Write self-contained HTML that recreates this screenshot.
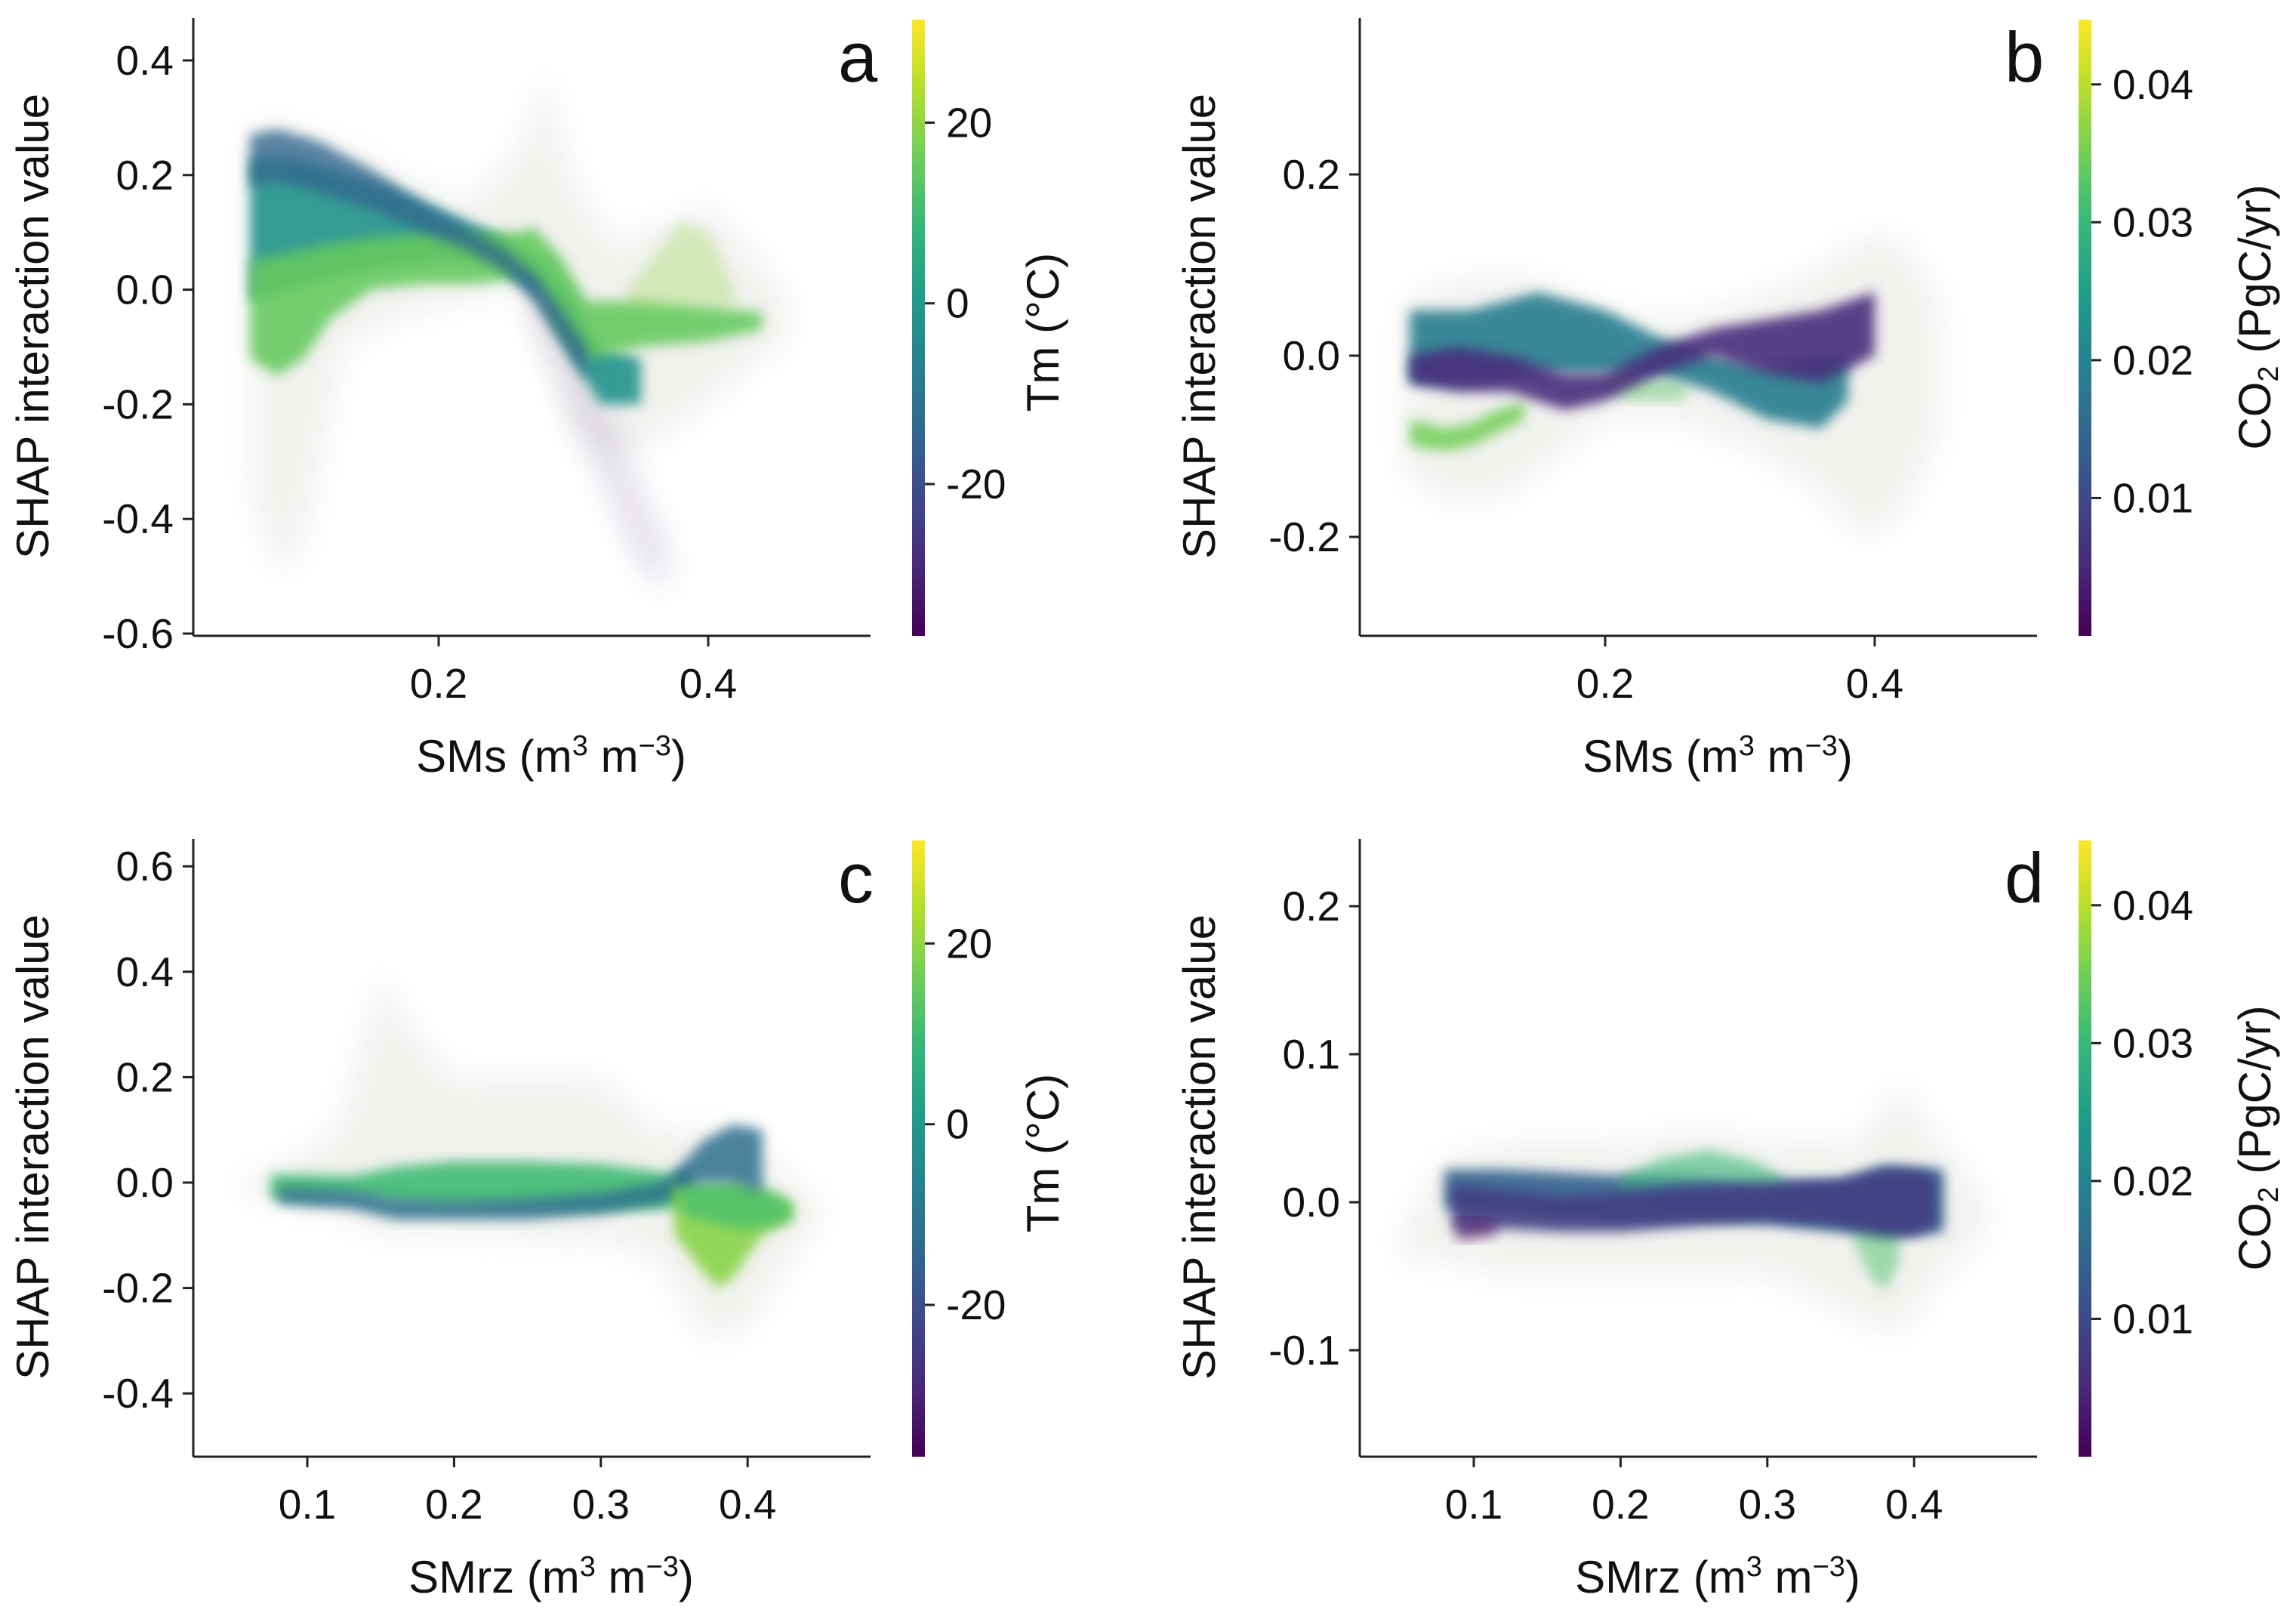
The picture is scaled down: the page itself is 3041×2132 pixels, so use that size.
<!DOCTYPE html>
<html><head><meta charset="utf-8"><style>
html,body{margin:0;padding:0;background:#fff}
svg{display:block}
text{font-family:"Liberation Sans",sans-serif;fill:#111}
</style></head><body>
<svg id="fig" width="3041" height="2132" viewBox="0 0 3041 2132" xmlns="http://www.w3.org/2000/svg">
<defs>
<filter id="blurS" x="-20%" y="-20%" width="140%" height="140%"><feGaussianBlur stdDeviation="8"/></filter>
<filter id="blurL" x="-20%" y="-20%" width="140%" height="140%"><feGaussianBlur stdDeviation="20"/></filter>
<linearGradient id="viridis" x1="0" y1="1" x2="0" y2="0"></linearGradient>
</defs>
</svg>
<script>
// ---------- tick labels ----------
const aYTicks=[0.4,0.2,0.0,-0.2,-0.4,-0.6];
const aYLabels=["0.4","0.2","0.0","-0.2","-0.4","-0.6"];
const abXTicks=[0.2,0.4];
const abXLabels=["0.2","0.4"];
const bYTicks=[0.2,0.0,-0.2];
const bYLabels=["0.2","0.0","-0.2"];
const cYTicks=[0.6,0.4,0.2,0.0,-0.2,-0.4];
const cYLabels=["0.6","0.4","0.2","0.0","-0.2","-0.4"];
const dYTicks=[0.2,0.1,0.0,-0.1];
const dYLabels=["0.2","0.1","0.0","-0.1"];
const cdXTicks=[0.1,0.2,0.3,0.4];
const cdXLabels=["0.1","0.2","0.3","0.4"];
const tmTicks=[20,0,-20];
const tmLabels=["20","0","-20"];
const co2Ticks=[0.04,0.03,0.02,0.01];
const co2Labels=["0.04","0.03","0.02","0.01"];

// ---------- panel a data (x, lower, upper, colour value) ----------
const aHaloX=[0.06,0.08,0.10,0.13,0.17,0.22,0.26,0.28,0.30,0.33,0.37,0.40,0.44,0.46];
const aHaloHi=[0.28,0.29,0.27,0.25,0.2,0.15,0.25,0.38,0.2,0.08,0.12,0.15,0.05,-0.02];
const aHaloLo=[-0.35,-0.5,-0.45,-0.1,-0.05,-0.02,0.0,-0.1,-0.25,-0.3,-0.25,-0.2,-0.12,-0.08];
const aTailX=[0.27,0.29,0.31,0.33,0.35,0.37];
const aTailHi=[0.02,-0.05,-0.15,-0.25,-0.35,-0.45];
const aTailLo=[-0.05,-0.15,-0.27,-0.38,-0.48,-0.53];
const aTealX=[0.06,0.09,0.12,0.16,0.2,0.24,0.28,0.3,0.32,0.35];
const aTealHi=[0.23,0.23,0.21,0.18,0.14,0.1,0.05,-0.02,-0.1,-0.12];
const aTealLo=[-0.02,0.0,0.02,0.04,0.05,0.05,-0.02,-0.12,-0.2,-0.2];
const aGreenX=[0.06,0.08,0.10,0.12,0.15,0.19,0.23,0.26,0.27,0.29,0.31,0.35,0.40,0.44];
const aGreenHi=[0.05,0.06,0.07,0.08,0.09,0.1,0.1,0.1,0.11,0.06,-0.02,-0.02,-0.03,-0.04];
const aGreenLo=[-0.12,-0.15,-0.12,-0.05,0.0,0.01,0.01,0.02,0.02,-0.08,-0.12,-0.1,-0.09,-0.07];
const aRidgeX=[0.06,0.08,0.11,0.15,0.19,0.22,0.25,0.27,0.29,0.31];
const aRidgeHi=[0.27,0.28,0.26,0.21,0.15,0.11,0.07,0.03,-0.03,-0.1];
const aRidgeLo=[0.18,0.19,0.17,0.14,0.1,0.07,0.03,-0.02,-0.09,-0.16];
const aPlumeX=[0.34,0.36,0.38,0.40,0.42];
const aPlumeHi=[0.0,0.06,0.12,0.1,0.0];
const aPlumeLo=[-0.03,-0.03,-0.03,-0.03,-0.03];
const aColors=[null,-30,-2,15,-14,20];

// ---------- panel b ----------
const bHaloX=[0.05,0.08,0.12,0.16,0.2,0.25,0.3,0.35,0.39,0.42,0.45];
const bHaloHi=[0.06,0.08,0.09,0.08,0.05,0.04,0.06,0.09,0.13,0.13,0.06];
const bHaloLo=[-0.13,-0.16,-0.16,-0.12,-0.07,-0.07,-0.1,-0.14,-0.2,-0.18,-0.08];
const bGreenX=[0.055,0.08,0.1,0.12,0.14];
const bGreenHi=[-0.07,-0.08,-0.075,-0.06,-0.05];
const bGreenLo=[-0.1,-0.105,-0.1,-0.085,-0.07];
const bGreen2X=[0.2,0.22,0.24,0.26];
const bGreen2Hi=[-0.02,-0.02,-0.025,-0.03];
const bGreen2Lo=[-0.04,-0.05,-0.05,-0.05];
const bTealX=[0.055,0.1,0.15,0.2,0.24,0.28,0.32,0.36,0.38];
const bTealHi=[0.05,0.05,0.07,0.05,0.02,0.0,-0.01,0.0,0.0];
const bTealLo=[-0.03,-0.03,-0.02,-0.02,-0.02,-0.04,-0.07,-0.08,-0.05];
const bBlueX=[0.055,0.09,0.13,0.17,0.2,0.24,0.28,0.32,0.36,0.4];
const bBlueHi=[0.0,0.01,0.0,-0.02,-0.02,0.01,0.03,0.04,0.05,0.07];
const bBlueLo=[-0.03,-0.04,-0.04,-0.06,-0.05,-0.02,0.0,-0.02,-0.03,0.0];
const bColors=[null,0.035,0.033,0.019,0.006];

// ---------- panel c ----------
const cHaloX=[0.05,0.08,0.12,0.15,0.17,0.2,0.25,0.3,0.34,0.37,0.4,0.43,0.45];
const cHaloHi=[0.0,0.03,0.1,0.4,0.3,0.2,0.2,0.2,0.1,0.1,0.1,0.0,-0.03];
const cHaloLo=[-0.01,-0.04,-0.06,-0.1,-0.1,-0.1,-0.11,-0.11,-0.15,-0.3,-0.28,-0.15,-0.07];
const cGreenX=[0.075,0.1,0.13,0.16,0.2,0.25,0.3,0.34,0.36];
const cGreenHi=[0.015,0.015,0.012,0.03,0.04,0.04,0.035,0.02,0.01];
const cGreenLo=[-0.03,-0.03,-0.03,-0.04,-0.05,-0.05,-0.05,-0.05,-0.05];
const cBlueX=[0.08,0.1,0.13,0.16,0.2,0.25,0.3,0.34,0.36];
const cBlueHi=[-0.01,-0.01,-0.015,-0.03,-0.035,-0.03,-0.02,0.0,0.03];
const cBlueLo=[-0.04,-0.045,-0.05,-0.07,-0.07,-0.07,-0.06,-0.04,-0.02];
const cYellowX=[0.35,0.37,0.38,0.39,0.41,0.43];
const cYellowHi=[0.0,-0.01,-0.01,0.0,-0.02,-0.04];
const cYellowLo=[-0.1,-0.17,-0.2,-0.18,-0.1,-0.07];
const cMidX=[0.355,0.38,0.4,0.42,0.43];
const cMidHi=[0.0,0.0,0.0,-0.02,-0.04];
const cMidLo=[-0.06,-0.08,-0.09,-0.08,-0.07];
const cBumpX=[0.35,0.37,0.39,0.41];
const cBumpHi=[0.02,0.08,0.11,0.1];
const cBumpLo=[-0.01,0.0,0.0,-0.02];
const cColors=[null,10,-12,19,12,-12];

// ---------- panel d ----------
const dHaloX=[0.05,0.08,0.12,0.2,0.26,0.3,0.36,0.39,0.42,0.45];
const dHaloHi=[-0.02,0.03,0.04,0.04,0.05,0.04,0.04,0.08,0.04,0.0];
const dHaloLo=[-0.04,-0.04,-0.05,-0.05,-0.05,-0.05,-0.08,-0.09,-0.05,-0.02];
const dTealX=[0.08,0.12,0.16,0.2,0.25,0.3,0.35,0.38,0.42];
const dTealHi=[0.022,0.022,0.02,0.018,0.018,0.015,0.015,0.025,0.022];
const dTealLo=[-0.005,-0.005,-0.01,-0.012,-0.012,-0.015,-0.02,-0.025,-0.02];
const dHumpX=[0.2,0.23,0.26,0.29,0.31];
const dHumpHi=[0.018,0.03,0.035,0.028,0.018];
const dHumpLo=[0.008,0.012,0.015,0.012,0.008];
const dLowX=[0.36,0.37,0.38,0.39];
const dLowHi=[-0.02,-0.02,-0.02,-0.02];
const dLowLo=[-0.03,-0.05,-0.06,-0.04];
const dBlueX=[0.085,0.12,0.16,0.2,0.25,0.3,0.35,0.38,0.4,0.415];
const dBlueHi=[0.012,0.008,0.004,0.006,0.01,0.012,0.015,0.022,0.022,0.018];
const dBlueLo=[-0.018,-0.018,-0.02,-0.02,-0.016,-0.012,-0.016,-0.022,-0.022,-0.016];
const dPurpX=[0.088,0.1,0.115];
const dPurpHi=[-0.012,-0.012,-0.012];
const dPurpLo=[-0.026,-0.025,-0.022];
const dColors=[null,0.014,0.03,0.032,0.008,0.002];

const NS="http://www.w3.org/2000/svg";
const svg=document.getElementById('fig');
const VIR=["#440154","#482878","#3e4989","#31688e","#26828e","#1f9e89","#35b779","#6ece58","#b5de2b","#fde725"];
function hex(h){return [1,3,5].map(i=>parseInt(h.substr(i,2),16));}
function viridis(t){t=Math.max(0,Math.min(1,t));const p=t*(VIR.length-1);const i=Math.min(VIR.length-2,Math.floor(p));const f=p-i;
 const a=hex(VIR[i]),b=hex(VIR[i+1]);return 'rgb('+a.map((v,k)=>Math.round(v+(b[k]-v)*f)).join(',')+')';}
const grad=svg.querySelector('#viridis');
VIR.forEach((c,i)=>{const s=document.createElementNS(NS,'stop');s.setAttribute('offset',(i/(VIR.length-1)));s.setAttribute('stop-color',c);grad.appendChild(s);});

function mk(tag,attrs,parent){const e=document.createElementNS(NS,tag);for(const k in attrs)e.setAttribute(k,attrs[k]);(parent||svg).appendChild(e);return e;}

function panel(cfg){
 const g=mk('g',{transform:'translate('+cfg.ox+','+cfg.oy+')'});
 
 
 const L=256,R=1153,T=24,B=842;
 const sx=v=>cfg.xp0+(v-cfg.xv0)*cfg.xk;
 const sy=v=>cfg.yp0-(v-cfg.yv0)*cfg.yk;
 const cg=mk('g',{},g);
 
 
 cfg.layers.forEach((ly,li)=>{
  let d='';
  ly.x.forEach((v,i)=>{d+=(i?'L':'M')+sx(v).toFixed(1)+','+sy(ly.hi[i]).toFixed(1);});
  for(let i=ly.x.length-1;i>=0;i--)d+='L'+sx(ly.x[i]).toFixed(1)+','+sy(ly.lo[i]).toFixed(1);
  d+='Z';
  const col=ly.c===null?'#b8b8aa':viridis((ly.c-cfg.cmin)/(cfg.cmax-cfg.cmin));
  const p=mk('path',{d:d,fill:col,opacity:ly.op,filter:ly.halo?'url(#blurL)':'url(#blurS)'},cg);
  
  
 });
 const ya=mk('line',{x1:L,y1:T,x2:L,y2:B,stroke:'#222','stroke-width':3},g);
 
 
 const xa=mk('line',{x1:L,y1:B,x2:R,y2:B,stroke:'#222','stroke-width':3},g);
 
 
 cfg.yt.forEach((v,i)=>{const y=sy(v);
  mk('line',{x1:L-14,y1:y,x2:L,y2:y,stroke:'#222','stroke-width':3},g);
  const t=mk('text',{x:L-26,y:y+19,'text-anchor':'end','font-size':55},g);t.textContent=cfg.yl[i];
  
  });
 cfg.xt.forEach((v,i)=>{const x=sx(v);
  mk('line',{x1:x,y1:B,x2:x,y2:B+14,stroke:'#222','stroke-width':3},g);
  const t=mk('text',{x:x,y:B+82,'text-anchor':'middle','font-size':55},g);t.textContent=cfg.xl[i];
  
  });
 const yt=mk('text',{transform:'translate(64,432) rotate(-90)','text-anchor':'middle','font-size':60},g);yt.textContent='SHAP interaction value';
 
 
 const xt=mk('text',{x:cfg.xtx,y:1022,'text-anchor':'middle','font-size':60},g);
 xt.innerHTML=cfg.xname+' (m<tspan dy="-22" font-size="38">3</tspan><tspan dy="22"> m</tspan><tspan dy="-22" font-size="38">−3</tspan><tspan dy="22">)</tspan>';
 
 
 const lt=mk('text',{x:1110,y:108,'font-size':94},g);lt.textContent=cfg.id;
 
 
 const CT=26,CB=842,CL=1208,CW=17;
 const cb=mk('rect',{x:CL,y:CT,width:CW,height:CB-CT,fill:'url(#viridis)'},g);
 
 
 const cy=v=>CB-(v-cfg.cmin)/(cfg.cmax-cfg.cmin)*(CB-CT);
 cfg.ct.forEach((v,i)=>{const y=cy(v);
  mk('line',{x1:CL+CW,y1:y,x2:CL+CW+13,y2:y,stroke:'#222','stroke-width':3},g);
  const t=mk('text',{x:CL+CW+28,y:y+19,'font-size':55},g);t.textContent=cfg.cl[i];
  
  });
 const ct=mk('text',{transform:'translate('+cfg.ctx+','+cfg.cty+') rotate(-90)','text-anchor':'middle','font-size':60},g);
 ct.innerHTML=cfg.cname;
 
 
}

const halo=0.2;
panel({id:'a',ox:0,oy:0,xv0:0.2,xp0:581,xk:1785,yv0:0.4,yp0:80,yk:759,cmin:-36.8,cmax:31.4,
 yt:aYTicks,yl:aYLabels,xt:abXTicks,xl:abXLabels,ct:tmTicks,cl:tmLabels,xname:'SMs',xtx:730,ctx:1402,cty:440,cname:'Tm (°C)',
 layers:[{x:aHaloX,lo:aHaloLo,hi:aHaloHi,c:aColors[0],op:halo,halo:1},
  {x:aTailX,lo:aTailLo,hi:aTailHi,c:aColors[1],op:0.15,halo:1},
  {x:aTealX,lo:aTealLo,hi:aTealHi,c:aColors[2],op:0.9},
  {x:aGreenX,lo:aGreenLo,hi:aGreenHi,c:aColors[3],op:0.88},
  {x:aRidgeX,lo:aRidgeLo,hi:aRidgeHi,c:aColors[4],op:0.8},
  {x:aPlumeX,lo:aPlumeLo,hi:aPlumeHi,c:aColors[5],op:0.3}]});
panel({id:'b',ox:1545,oy:0,xv0:0.2,xp0:581,xk:1785,yv0:0.0,yp0:471,yk:1200,cmin:0,cmax:0.0447,
 yt:bYTicks,yl:bYLabels,xt:abXTicks,xl:abXLabels,ct:co2Ticks,cl:co2Labels,xname:'SMs',xtx:730,ctx:1462,cty:420,cname:'CO<tspan font-size="38" dy="10">2</tspan><tspan dy="-10"> (PgC/yr)</tspan>',
 layers:[{x:bHaloX,lo:bHaloLo,hi:bHaloHi,c:bColors[0],op:halo,halo:1},
  {x:bGreenX,lo:bGreenLo,hi:bGreenHi,c:bColors[1],op:0.85},
  {x:bGreen2X,lo:bGreen2Lo,hi:bGreen2Hi,c:bColors[2],op:0.45},
  {x:bTealX,lo:bTealLo,hi:bTealHi,c:bColors[3],op:0.9},
  {x:bBlueX,lo:bBlueLo,hi:bBlueHi,c:bColors[4],op:0.9}]});
panel({id:'c',ox:0,oy:1087,xv0:0.1,xp0:407,xk:1944,yv0:0.0,yp0:479,yk:698,cmin:-36.8,cmax:31.4,
 yt:cYTicks,yl:cYLabels,xt:cdXTicks,xl:cdXLabels,ct:tmTicks,cl:tmLabels,xname:'SMrz',xtx:730,ctx:1402,cty:440,cname:'Tm (°C)',
 layers:[{x:cHaloX,lo:cHaloLo,hi:cHaloHi,c:cColors[0],op:halo,halo:1},
  {x:cGreenX,lo:cGreenLo,hi:cGreenHi,c:cColors[1],op:0.9},
  {x:cBlueX,lo:cBlueLo,hi:cBlueHi,c:cColors[2],op:0.85},
  {x:cYellowX,lo:cYellowLo,hi:cYellowHi,c:cColors[3],op:0.9},
  {x:cMidX,lo:cMidLo,hi:cMidHi,c:cColors[4],op:0.85},
  {x:cBumpX,lo:cBumpLo,hi:cBumpHi,c:cColors[5],op:0.85}]});
panel({id:'d',ox:1545,oy:1087,xv0:0.1,xp0:407,xk:1944,yv0:0.0,yp0:505,yk:1960,cmin:0,cmax:0.0447,
 yt:dYTicks,yl:dYLabels,xt:cdXTicks,xl:cdXLabels,ct:co2Ticks,cl:co2Labels,xname:'SMrz',xtx:730,ctx:1462,cty:420,cname:'CO<tspan font-size="38" dy="10">2</tspan><tspan dy="-10"> (PgC/yr)</tspan>',
 layers:[{x:dHaloX,lo:dHaloLo,hi:dHaloHi,c:dColors[0],op:halo,halo:1},
  {x:dTealX,lo:dTealLo,hi:dTealHi,c:dColors[1],op:0.9},
  {x:dHumpX,lo:dHumpLo,hi:dHumpHi,c:dColors[2],op:0.6},
  {x:dLowX,lo:dLowLo,hi:dLowHi,c:dColors[3],op:0.5},
  {x:dBlueX,lo:dBlueLo,hi:dBlueHi,c:dColors[4],op:0.9},
  {x:dPurpX,lo:dPurpLo,hi:dPurpHi,c:dColors[5],op:0.6}]});
</script>
</body></html>
